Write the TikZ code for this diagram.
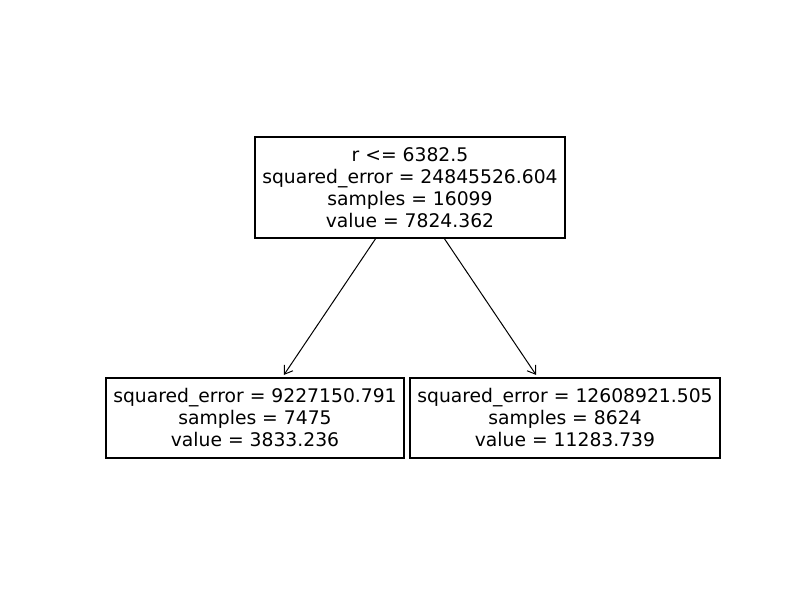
\documentclass[tikz,border=0pt]{standalone}
\usepackage{fontspec}
\setmainfont{DejaVu Sans}
\usetikzlibrary{arrows.meta}
\begin{document}
\begin{tikzpicture}[x=0.72pt,y=-0.72pt,
  treebox/.style={draw=black, line width=0.8pt, rectangle, align=center, inner sep=0pt,
    font=\fontsize{13.5}{15.84}\selectfont},
  edge/.style={draw=black, line width=0.72pt, -{Straight Barb[length=5.5pt,width=7.5pt]}, shorten >=2.2pt}]
\useasboundingbox (0,0) rectangle (800,600);
\node[treebox, minimum width=223.2pt, minimum height=72.7pt] (root) at (410,187.5)
  {r <= 6382.5\\squared\_error = 24845526.604\\samples = 16099\\value = 7824.362};
\node[treebox, minimum width=214.6pt, minimum height=57.6pt] (left) at (255,418)
  {squared\_error = 9227150.791\\samples = 7475\\value = 3833.236};
\node[treebox, minimum width=223.2pt, minimum height=57.6pt] (right) at (565,418)
  {squared\_error = 12608921.505\\samples = 8624\\value = 11283.739};
\draw[edge] (root) -- (left);
\draw[edge] (root) -- (right);
\end{tikzpicture}
\end{document}
